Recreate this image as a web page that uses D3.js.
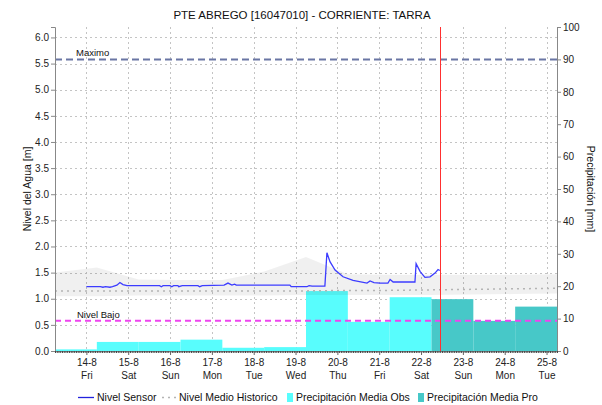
<!DOCTYPE html>
<html>
<head>
<meta charset="utf-8">
<script src="https://cdn.jsdelivr.net/npm/d3@7"></script>
<style>
  body { margin: 0; background: #fff; }
  svg text { font-family: "Liberation Sans", Arial, sans-serif; fill: #111; }
</style>
</head>
<body>
<div id="chart"></div>
<script>
// PTE ABREGO – nivel + precipitación
const TITLE = "PTE ABREGO [16047010] - CORRIENTE: TARRA";

// nivel sensor [m]
const sensorTimes = [
  "2020-08-14 00:00","2020-08-14 08:00","2020-08-14 09:30","2020-08-14 11:00","2020-08-14 13:30",
  "2020-08-14 15:00","2020-08-14 17:30","2020-08-14 19:15","2020-08-14 21:00","2020-08-14 23:20",
  "2020-08-15 18:00","2020-08-15 19:00","2020-08-15 20:00","2020-08-16 00:00","2020-08-16 01:00",
  "2020-08-16 02:00","2020-08-16 04:30","2020-08-16 05:00","2020-08-16 07:00","2020-08-16 16:00",
  "2020-08-16 17:00","2020-08-16 18:30","2020-08-17 07:00","2020-08-17 09:15","2020-08-17 11:30",
  "2020-08-17 13:00","2020-08-17 14:00","2020-08-18 20:45","2020-08-18 21:30","2020-08-19 06:30",
  "2020-08-19 07:45","2020-08-19 09:30","2020-08-19 16:50","2020-08-19 18:00","2020-08-19 19:45",
  "2020-08-19 22:40","2020-08-20 03:15","2020-08-20 09:00","2020-08-20 17:00","2020-08-20 18:45",
  "2020-08-20 21:00","2020-08-21 00:30","2020-08-21 05:00","2020-08-21 06:15","2020-08-21 08:00",
  "2020-08-21 20:30","2020-08-21 21:10","2020-08-21 23:30","2020-08-22 02:15","2020-08-22 05:10",
  "2020-08-22 08:00","2020-08-22 09:45","2020-08-22 10:45"
];
const sensorValues = [
  1.23,1.23,1.22,1.23,1.22,
  1.23,1.26,1.31,1.27,1.25,
  1.25,1.23,1.25,1.25,1.23,
  1.25,1.25,1.23,1.25,1.25,
  1.23,1.25,1.26,1.30,1.26,
  1.28,1.26,1.26,1.23,1.23,
  1.25,1.24,1.24,1.88,1.71,
  1.55,1.42,1.35,1.30,1.34,
  1.31,1.30,1.30,1.37,1.32,
  1.32,1.67,1.52,1.41,1.42,
  1.49,1.56,1.54
];

// histórico (diario)
const histTimes = [
  "2020-08-13 06:00","2020-08-14 06:00","2020-08-15 06:00","2020-08-16 06:00","2020-08-17 06:00",
  "2020-08-18 06:00","2020-08-19 06:00","2020-08-20 06:00","2020-08-21 06:00","2020-08-22 06:00",
  "2020-08-23 06:00","2020-08-24 06:00","2020-08-25 06:00"
];
const histMax  = [1.50,1.60,1.37,1.36,1.36,1.52,1.80,1.47,1.46,1.46,1.46,1.46,1.47];
const histMean = [1.15,1.15,1.15,1.15,1.15,1.15,1.15,1.16,1.16,1.17,1.18,1.19,1.20];
const histMin  = [1.05,1.05,1.06,1.06,1.06,1.06,1.07,1.07,1.07,1.07,1.08,1.09,1.10];

// precipitación diaria [mm]
const obsDays   = ["2020-08-13","2020-08-14","2020-08-15","2020-08-16","2020-08-17",
                   "2020-08-18","2020-08-19","2020-08-20","2020-08-21"];
const obsValues = [0.5, 2.8, 2.8, 3.5, 1.0, 1.2, 18.5, 9.0, 16.6];
const proDays   = ["2020-08-22","2020-08-23","2020-08-24"];
const proValues = [16.0, 9.3, 13.7];

const NIVEL_MAX  = 5.58;
const NIVEL_BAJO = 0.58;
const NOW = "2020-08-22 11:00";
const DOMAIN = ["2020-08-13 06:00", "2020-08-25 06:00"];
const levelTicks = d3.range(0, 6.01, 0.5);
const precTicks  = d3.range(0, 101, 10);
const dayNames = ["Sun","Mon","Tue","Wed","Thu","Fri","Sat"];

/* helpers */
const parse = d3.timeParse("%Y-%m-%d %H:%M");
const dayStart = s => parse(s + " 06:00");

const width = 602, height = 405;
const margin = { top: 27, right: 45, bottom: 54, left: 55 };

const svg = d3.select("#chart").append("svg")
  .attr("width", width).attr("height", height);

const x = d3.scaleTime()
  .domain(DOMAIN.map(parse))
  .range([margin.left, width - margin.right]);
const yL = d3.scaleLinear().domain([0, 6.2]).range([height - margin.bottom, margin.top]);
const yR = d3.scaleLinear().domain([0, 100]).range([height - margin.bottom, margin.top]);

const x0 = margin.left, x1 = width - margin.right;
const yTop = margin.top, yBot = height - margin.bottom;
const dayTicks = d3.timeDay.range(d3.timeDay.ceil(x.domain()[0]), x.domain()[1]);

// Title
svg.append("text")
  .attr("x", 302).attr("y", 19)
  .attr("text-anchor", "middle")
  .attr("font-size", 11.5)
  .text(TITLE);

// Grid
const grid = svg.append("g")
  .attr("stroke", "#c4c4c4").attr("stroke-dasharray", "2,3").attr("stroke-width", 1);
grid.selectAll("line.h").data(levelTicks).join("line")
  .attr("class", "h")
  .attr("x1", x0).attr("x2", x1)
  .attr("y1", d => Math.round(yL(d)) + 0.5).attr("y2", d => Math.round(yL(d)) + 0.5);
grid.selectAll("line.v").data(dayTicks).join("line")
  .attr("class", "v")
  .attr("x1", d => Math.round(x(d)) + 0.5).attr("x2", d => Math.round(x(d)) + 0.5)
  .attr("y1", yTop).attr("y2", yBot);

// Bars – precipitación
const barG = svg.append("g");
barG.selectAll("rect.obs")
  .data(obsDays.map((d, i) => ({ t: dayStart(d), v: obsValues[i] })))
  .join("rect")
    .attr("class", "obs")
    .attr("x", d => x(d.t))
    .attr("width", d => x(d3.timeDay.offset(d.t, 1)) - x(d.t))
    .attr("y", d => yR(d.v))
    .attr("height", d => yBot - yR(d.v))
    .attr("fill", "#58fdfd");
barG.selectAll("rect.pro")
  .data(proDays.map((d, i) => ({ t: dayStart(d), v: proValues[i] })))
  .join("rect")
    .attr("class", "pro")
    .attr("x", d => x(d.t))
    .attr("width", d => x(d3.timeDay.offset(d.t, 1)) - x(d.t))
    .attr("y", d => yR(d.v))
    .attr("height", d => yBot - yR(d.v))
    .attr("fill", "#47c8c8");

// Historic band + mean
const hist = histTimes.map((t, i) => ({ t: parse(t), lo: histMin[i], hi: histMax[i], m: histMean[i] }));
svg.append("path")
  .datum(hist)
  .attr("fill", "#000").attr("fill-opacity", 0.06)
  .attr("d", d3.area().x(d => x(d.t)).y0(d => yL(d.lo)).y1(d => yL(d.hi)));
svg.append("path")
  .datum(hist)
  .attr("fill", "none").attr("stroke", "#b4b4b4").attr("stroke-width", 1.5)
  .attr("stroke-dasharray", "2,4")
  .attr("d", d3.line().x(d => x(d.t)).y(d => yL(d.m)));

// Reference lines
svg.append("line")
  .attr("x1", x0).attr("x2", x1)
  .attr("y1", yL(NIVEL_MAX)).attr("y2", yL(NIVEL_MAX))
  .attr("stroke", "#6a76a4").attr("stroke-width", 2).attr("stroke-dasharray", "7,4");
svg.append("text")
  .attr("x", 76).attr("y", yL(NIVEL_MAX) - 3)
  .attr("font-size", 9.5).text("Maximo");
svg.append("line")
  .attr("x1", x0).attr("x2", x1)
  .attr("y1", yL(NIVEL_BAJO)).attr("y2", yL(NIVEL_BAJO))
  .attr("stroke", "#ee44ee").attr("stroke-width", 2).attr("stroke-dasharray", "6,4");
svg.append("text")
  .attr("x", 77).attr("y", yL(NIVEL_BAJO) - 3)
  .attr("font-size", 9.5).text("Nivel Bajo");

// Sensor line
svg.append("path")
  .datum(sensorTimes.map((t, i) => ({ t: parse(t), v: sensorValues[i] })))
  .attr("fill", "none").attr("stroke", "#3c3cff").attr("stroke-width", 1.3)
  .attr("d", d3.line().x(d => x(d.t)).y(d => yL(d.v)));

// Now marker
svg.append("line")
  .attr("x1", Math.round(x(parse(NOW))) + 0.5).attr("x2", Math.round(x(parse(NOW))) + 0.5)
  .attr("y1", yTop).attr("y2", yBot)
  .attr("stroke", "#ff3030").attr("stroke-width", 1);

// Axis left
svg.append("g")
  .attr("transform", `translate(${x0},0)`)
  .call(d3.axisLeft(yL).tickValues(levelTicks).tickFormat(d3.format(".1f")).tickSize(4).tickPadding(2))
  .call(g => g.select(".domain").attr("stroke", "#888"))
  .call(g => g.selectAll(".tick line").attr("stroke", "#888"))
  .call(g => g.selectAll("text").attr("font-size", 10).attr("font-family", null).style("fill", "#222"));

// Axis right
svg.append("g")
  .attr("transform", `translate(${x1},0)`)
  .call(d3.axisRight(yR).tickValues(precTicks).tickSize(4).tickPadding(2))
  .call(g => g.select(".domain").attr("stroke", "#888"))
  .call(g => g.selectAll(".tick line").attr("stroke", "#888"))
  .call(g => g.selectAll("text").attr("font-size", 10).attr("font-family", null).style("fill", "#222"));

// Axis bottom (minor hourly ticks + day labels)
svg.append("g")
  .attr("transform", `translate(0,${yBot})`)
  .call(d3.axisBottom(x).ticks(d3.timeHour.every(1)).tickSize(2).tickFormat(""))
  .call(g => g.select(".domain").attr("stroke", "#888"))
  .call(g => g.selectAll(".tick line").attr("stroke", "#444"));
const gx = svg.append("g")
  .attr("transform", `translate(0,${yBot})`)
  .call(d3.axisBottom(x).tickValues(dayTicks).tickSize(4).tickFormat(""))
  .call(g => g.select(".domain").remove())
  .call(g => g.selectAll(".tick line").attr("stroke", "#666"));
gx.selectAll(".tick").append("text")
  .attr("y", 15).attr("text-anchor", "middle").attr("font-size", 10)
  .style("fill", "#222")
  .text(d => `${d.getDate()}-${d.getMonth() + 1}`);
gx.selectAll(".tick").append("text")
  .attr("y", 28).attr("text-anchor", "middle").attr("font-size", 10)
  .style("fill", "#222")
  .text(d => dayNames[d.getDay()]);

// Axis titles
svg.append("text")
  .attr("transform", `translate(31,${(yTop + yBot) / 2}) rotate(-90)`)
  .attr("text-anchor", "middle").attr("font-size", 10.5)
  .text("Nivel del Agua [m]");
svg.append("text")
  .attr("transform", `translate(587,${(yTop + yBot) / 2}) rotate(90)`)
  .attr("text-anchor", "middle").attr("font-size", 10.5)
  .text("Precipitación [mm]");

// Legend
const lg = svg.append("g").attr("font-size", 10.5);
lg.append("line").attr("x1", 78).attr("x2", 94).attr("y1", 397.5).attr("y2", 397.5)
  .attr("stroke", "#2222dd").attr("stroke-width", 1.3);
lg.append("text").attr("x", 97).attr("y", 401).text("Nivel Sensor");
lg.append("line").attr("x1", 162).attr("x2", 176).attr("y1", 397.5).attr("y2", 397.5)
  .attr("stroke", "#b4b4b4").attr("stroke-width", 1.5).attr("stroke-dasharray", "2,4");
lg.append("text").attr("x", 179).attr("y", 401).text("Nivel Medio Historico");
lg.append("rect").attr("x", 287).attr("y", 393).attr("width", 6).attr("height", 9).attr("fill", "#58fdfd");
lg.append("text").attr("x", 296).attr("y", 401).text("Precipitación Media Obs");
lg.append("rect").attr("x", 418).attr("y", 393).attr("width", 6).attr("height", 9).attr("fill", "#47c8c8");
lg.append("text").attr("x", 427).attr("y", 401).text("Precipitación Media Pro");
</script>
</body>
</html>
